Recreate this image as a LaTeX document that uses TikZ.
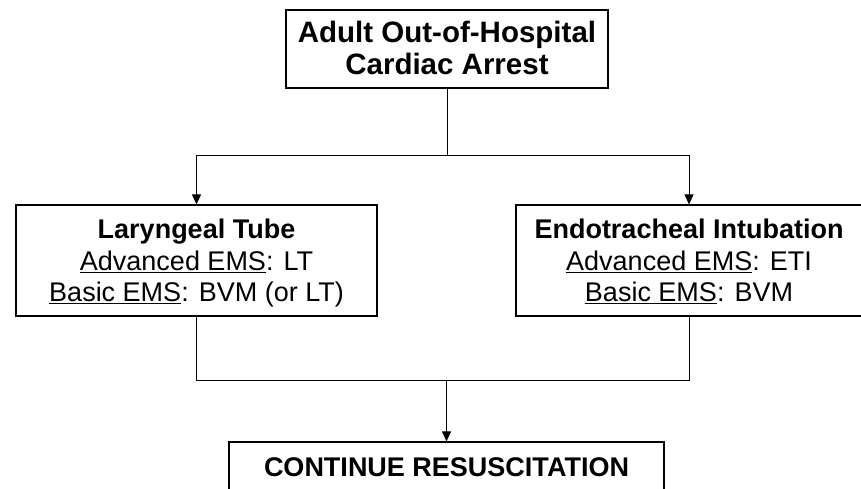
\documentclass[tikz,border=0pt]{standalone}
\usepackage{fontspec}
\setmainfont{Liberation Sans}
\usetikzlibrary{arrows.meta}

\begin{document}
\begin{tikzpicture}[x=1pt,y=-1pt,
		box/.style={draw,line width=1.2pt,align=center,inner sep=0pt,font=\fontsize{27}{31.7}\selectfont},
		arr/.style={-{Triangle[width=9pt,length=10pt]},line width=1pt}]
	\useasboundingbox (0,0) rectangle (861,488);
	% boxes
	\node[box,minimum width=322pt,minimum height=78pt,font=\fontsize{29.5}{31.5}\selectfont,text height=50.5pt,text depth=0pt] (oohca) at (447,49) {\textbf{Adult Out-of-Hospital}\\\textbf{Cardiac Arrest}};
	\node[box,minimum width=361pt,minimum height=111pt,text height=82.7pt,text depth=0pt] (lt) at (196.5,260.5) {\textbf{Laryngeal Tube}\\\underline{Advanced EMS}: LT\\\underline{Basic EMS}: BVM (or LT)};
	\node[box,minimum width=346pt,minimum height=111pt,text height=82.7pt,text depth=0pt] (eti) at (689,260.5) {\textbf{Endotracheal Intubation}\\\underline{Advanced EMS}: ETI\\\underline{Basic EMS}: BVM};
	\node[box,minimum width=435pt,minimum height=50pt,text height=19.3pt,text depth=0pt] (cont) at (446.5,467) {\textbf{CONTINUE RESUSCITATION}};
	% connectors
	\coordinate (split) at (447,155);
	\coordinate (merge) at (446.5,380);
	\draw[line width=1pt] (oohca.south) -- (split);
	\draw[arr] (split) -| (lt.north);
	\draw[arr] (split) -| (eti.north);
	\draw[line width=1pt] (lt.south) |- (merge);
	\draw[line width=1pt] (eti.south) |- (merge);
	\draw[arr] (merge) -- (cont.north);
\end{tikzpicture}
\end{document}
